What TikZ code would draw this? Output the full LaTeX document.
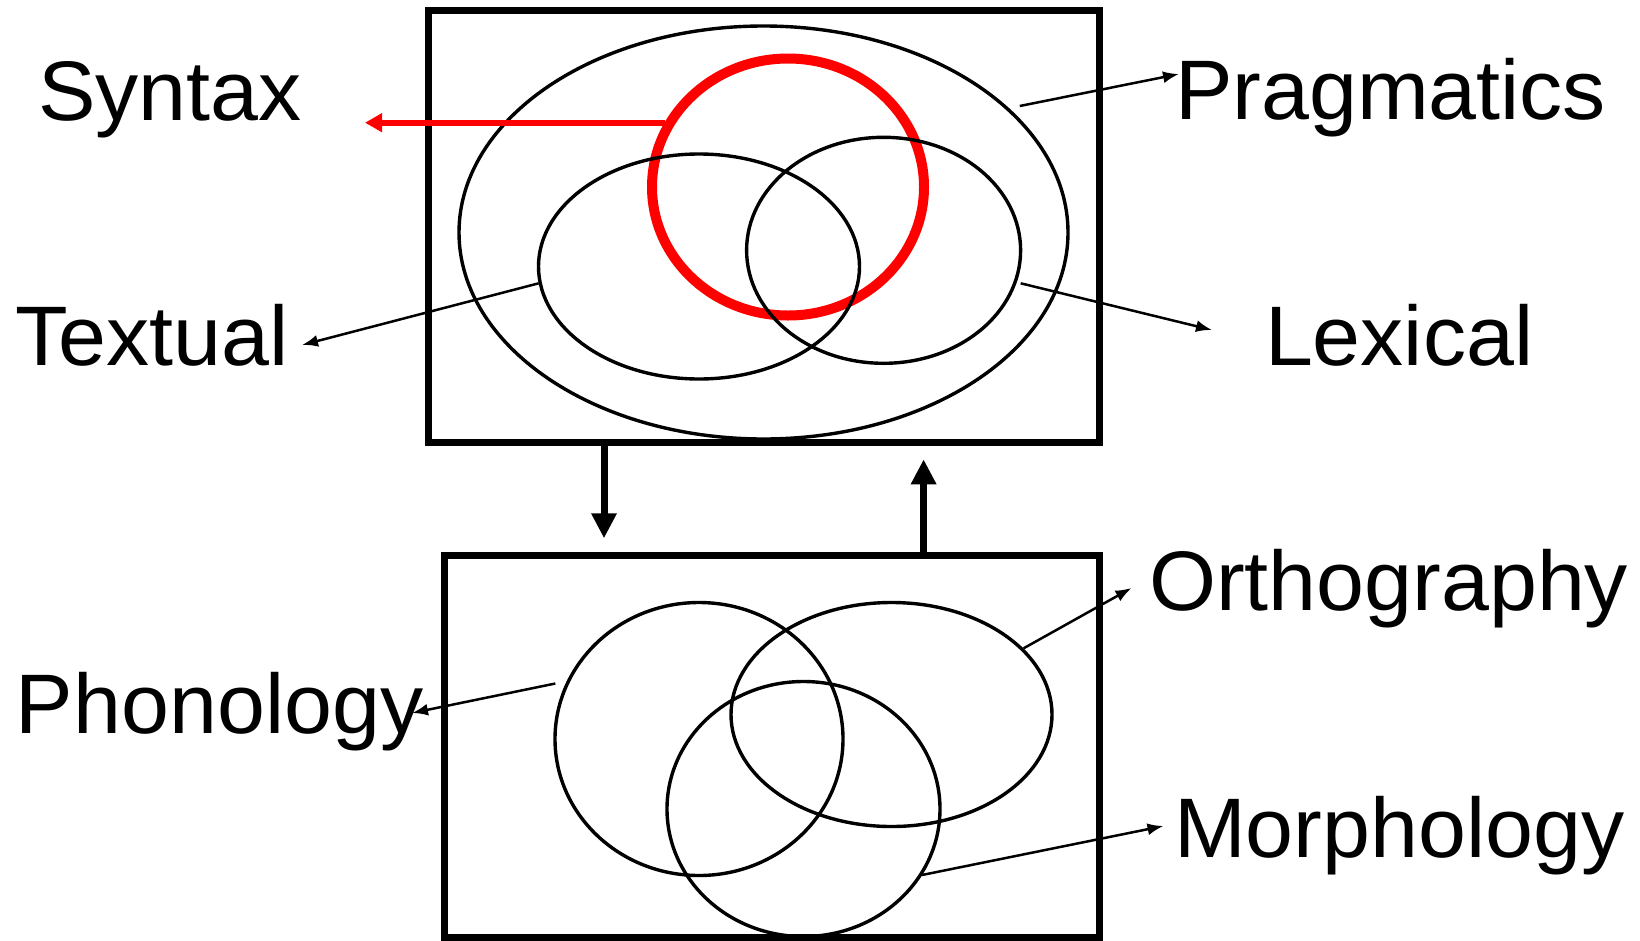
\documentclass[tikz,border=0pt]{standalone}
\usepackage{fontspec}
\setmainfont{Liberation Sans}[FakeStretch=1.02]
\usetikzlibrary{shapes.geometric,arrows.meta}
\begin{document}
\begin{tikzpicture}[x=1pt,y=-1pt,
  lbl/.style={anchor=base west,inner sep=0pt,outer sep=0pt,font=\fontsize{84.5}{90}\selectfont},
  frame/.style={draw,line width=7pt,rectangle,inner sep=0pt,outer sep=0pt},
  ring/.style={draw,line width=3.4pt,ellipse,inner sep=0pt,outer sep=0pt},
  redring/.style={draw=red,line width=10pt,ellipse,inner sep=0pt,outer sep=0pt},
  thinarrow/.style={line width=2.5pt,-{Latex[length=16pt,width=12pt]}},
  bigarrow/.style={line width=7pt,-{Triangle[length=25pt,width=24pt]}},
  redarrow/.style={red,line width=6pt,-{Triangle[length=17pt,width=18pt]}}]
\useasboundingbox (0,0) rectangle (1640,940);

% boxes
\node[frame,minimum width=671pt,minimum height=432pt] (topbox) at (763.5,226.7) {};
\node[frame,minimum width=655pt,minimum height=382pt] (botbox) at (772,746) {};

% top ellipses
\node[redring,minimum width=272pt,minimum height=257pt] (syn) at (788,187) {};
\node[ring,minimum width=609pt,minimum height=413pt] (prag) at (763.5,232.5) {};
\node[ring,minimum width=321pt,minimum height=225pt] (textual) at (699,266.5) {};
\node[ring,minimum width=274pt,minimum height=226pt] (lex) at (883.6,250.3) {};

% bottom ellipses
\node[ring,minimum width=288pt,minimum height=273pt] (phon) at (699,739) {};
\node[ring,minimum width=321pt,minimum height=224pt] (orth) at (891.5,714.5) {};
\node[ring,minimum width=273pt,minimum height=255pt] (morph) at (803.5,809) {};

% labels
\node[lbl] (Lsyn) at (38,120) {Syntax};
\node[lbl] (Lprag) at (1175,119) {Pragmatics};
\node[lbl] (Ltext) at (15,365) {Textual};
\node[lbl] (Llex) at (1265,365) {Lexical};
\node[lbl] (Lphon) at (16,733) {Phonology};
\node[lbl] (Lorth) at (1149,610) {Orthography};
\node[lbl] (Lmorph) at (1174,857) {Morphology};

% connector end points
\coordinate (synS) at (665,122.7);
\coordinate (synT) at (365,122.7);
\coordinate (pragS) at (1019.8,106);
\coordinate (pragT) at (1179,74);
\coordinate (textS) at (538.7,283.3);
\coordinate (textT) at (302,345);
\coordinate (lexS) at (1020.7,283.3);
\coordinate (lexT) at (1212,330);
\coordinate (phonS) at (555.3,683.5);
\coordinate (phonT) at (412,713);
\coordinate (orthS) at (1023.6,648.3);
\coordinate (orthT) at (1131.5,588);
\coordinate (morphS) at (922,875);
\coordinate (morphT) at (1163.5,826);
\coordinate (downT) at (604,538.3);
\coordinate (upT) at (923.6,459.3);

% connectors
\draw[redarrow] (synS) -- (synT);
\draw[thinarrow] (pragS) -- (pragT);
\draw[thinarrow] (textS) -- (textT);
\draw[thinarrow] (lexS) -- (lexT);
\draw[thinarrow] (phonS) -- (phonT);
\draw[thinarrow] (orthS) -- (orthT);
\draw[thinarrow] (morphS) -- (morphT);
\draw[bigarrow] (topbox.south -| downT) -- (downT);
\draw[bigarrow] (botbox.north -| upT) -- (upT);
\end{tikzpicture}
\end{document}
